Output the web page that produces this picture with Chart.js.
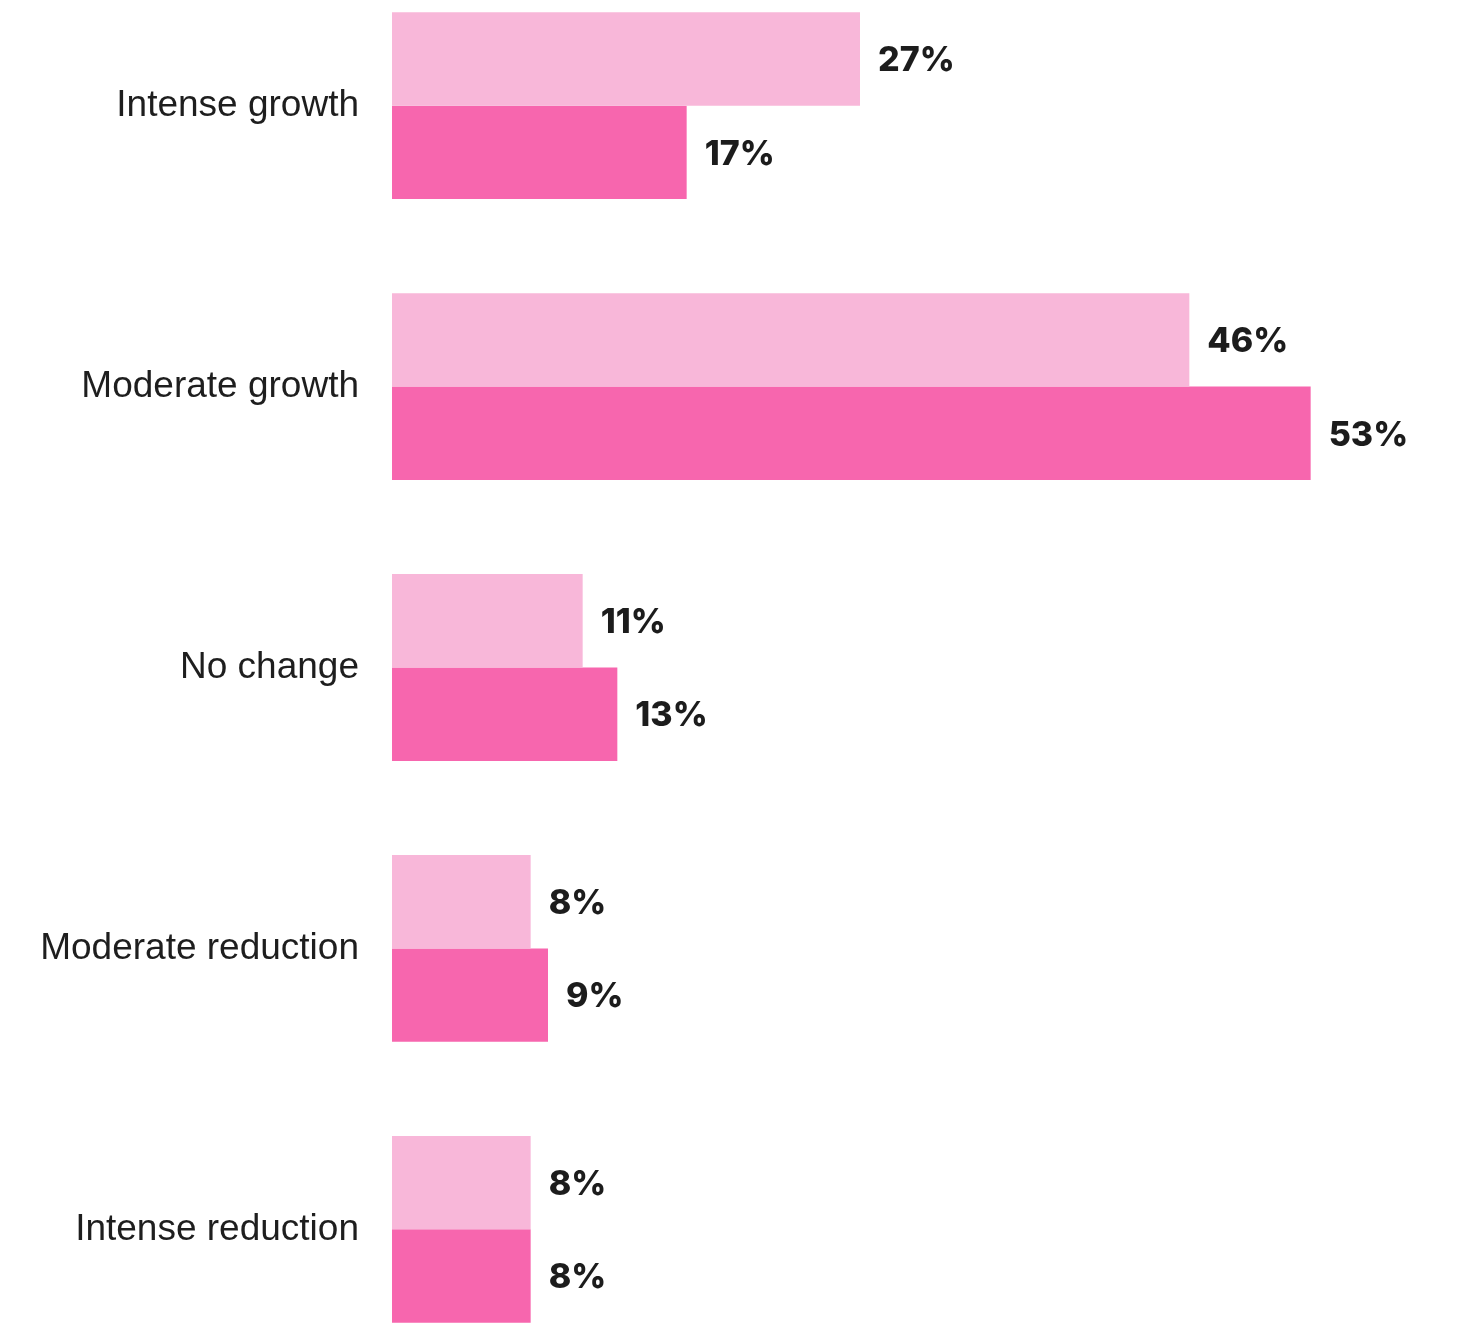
<!DOCTYPE html>
<html>
<head>
<meta charset="utf-8">
<script src="https://cdn.jsdelivr.net/npm/chart.js@4.4.1/dist/chart.umd.min.js"></script>
<style>
  html, body { margin: 0; padding: 0; background: #fff; overflow: hidden; }
  /* the y axis reserves padding + half a label line above and below the plot,
     so the canvas is shifted up by that amount */
  #wrap { position: absolute; left: 0; top: -90px; width: 1460px; height: 1515px; }
</style>
</head>
<body>
<div id="wrap"><canvas id="growthChart"></canvas></div>
<script>
const categories = ['Intense growth', 'Moderate growth', 'No change', 'Moderate reduction', 'Intense reduction'];
const seriesA = [27, 46, 11, 8, 8];
const seriesB = [17, 53, 13, 9, 8];

// value labels at the end of each bar
const barLabels = {
  id: 'barLabels',
  afterDatasetsDraw(chart) {
    const ctx = chart.ctx;
    ctx.save();
    ctx.font = '800 34px Inter, "Noto Sans", sans-serif';
    ctx.fillStyle = '#1c1c1c';
    ctx.textAlign = 'left';
    ctx.textBaseline = 'middle';
    chart.data.datasets.forEach((ds, i) => {
      chart.getDatasetMeta(i).data.forEach((bar, j) => {
        ctx.fillText(ds.data[j] + '%', bar.x + 18, bar.y + 2);
      });
    });
    ctx.restore();
  }
};

const ctx = document.getElementById('growthChart').getContext('2d');
const myChart = new Chart(ctx, {
  type: 'bar',
  data: {
    labels: categories,
    datasets: [
      { data: seriesA, backgroundColor: '#f8b7d9' },
      { data: seriesB, backgroundColor: '#f766ae' }
    ]
  },
  options: {
    indexAxis: 'y',
    responsive: true,
    maintainAspectRatio: false,
    animation: false,
    layout: { padding: { left: 0, right: 28, top: 0, bottom: 0 } },
    datasets: { bar: { categoryPercentage: 0.665, barPercentage: 1 } },
    plugins: { legend: { display: false }, tooltip: { enabled: false } },
    scales: {
      x: { display: false, min: 0, max: 60 },
      y: {
        grid: { display: false, drawTicks: false },
        border: { display: false },
        ticks: {
          padding: 33,
          color: '#1e1e1e',
          font: { family: '"Liberation Sans", Arial, sans-serif', size: 37 }
        },
        afterFit(scale) { scale.width = 392; }
      }
    }
  },
  plugins: [barLabels]
});
</script>
</body>
</html>
